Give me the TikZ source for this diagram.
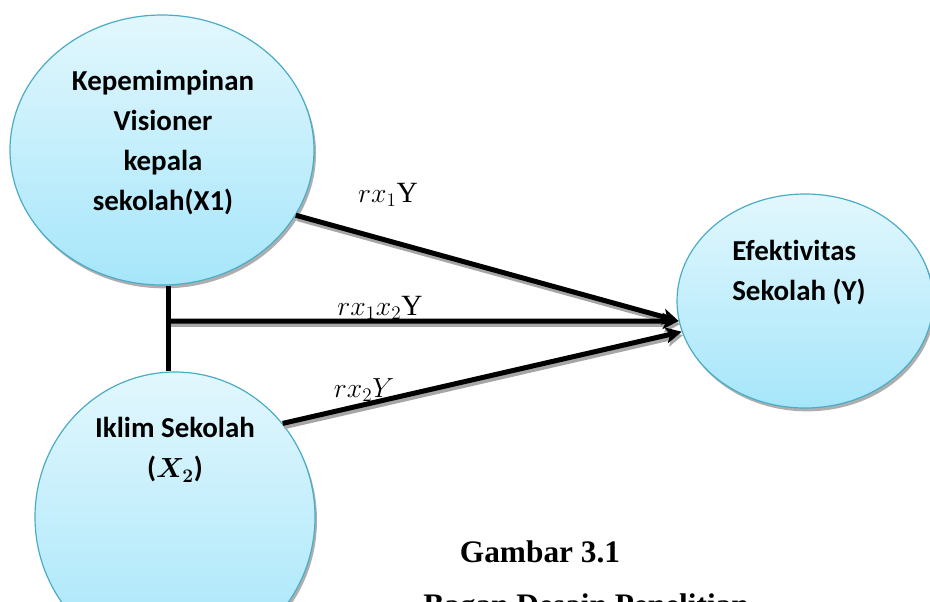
\documentclass[tikz,border=0pt]{standalone}
\usepackage{amsmath}
\usepackage{fontspec}
\setmainfont{Liberation Serif}
\newfontfamily\calibri[Ligatures={NoCommon,NoDiscretionary,NoRare}]{Carlito}
\usepackage{pgf,tikz}
\usepackage{tkz-euclide}
\usepackage{xcolor}
\usetikzlibrary{arrows.meta, shapes.geometric, shadows, calc}

\definecolor{bubtop}{HTML}{E2F7FD}
\definecolor{bubbot}{HTML}{A6E6FA}
\definecolor{bubline}{HTML}{4BACC6}

\tikzset{
	bubble/.style={ellipse, draw=bubline, line width=0.9pt, inner sep=0pt,
		top color=bubtop, bottom color=bubbot,
		drop shadow={shadow xshift=1.5pt, shadow yshift=-2.5pt, fill=black!45, opacity=.7}},
	btext/.style={font=\calibri\bfseries\fontsize{21.7}{30}\selectfont, align=center, inner sep=0pt},
	link/.style={line width=3.75pt, -{Stealth[length=12pt,width=12pt,inset=3pt]}},
	linkshade/.style={link, draw=black!35, transform canvas={xshift=1pt, yshift=-2.5pt}},
	bar/.style={line width=3.75pt},
	rlab/.style={font=\fontsize{22}{26}\selectfont, anchor=base, inner sep=0pt},
	captext/.style={font=\bfseries\fontsize{23.5}{28}\selectfont, anchor=base, inner sep=0pt}
}

\begin{document}
\begin{tikzpicture}[x=0.75pt, y=-0.75pt]
	\useasboundingbox (0,0) rectangle (930,601);
	\clip (0,0) rectangle (930,601);

	\node[bubble, minimum width=228pt, minimum height=202.5pt] (x1) at (162,150) {};
	\node[bubble, minimum width=210pt, minimum height=217.5pt] (x2) at (175,517) {};
	\node[bubble, minimum width=192pt, minimum height=160.5pt] (y) at (805,301) {};

	\tkzDefPoint(168,321){J}

	\draw[linkshade] (x1.-26) -- (y.189);
	\draw[linkshade] (J) -- (y.189);
	\draw[linkshade] (x2.41) -- (y.194);

	\draw[bar] (x1.south -| J) -- (x2.north -| J);
	\draw[link] (x1.-26) -- (y.189);
	\draw[link] (J) -- (y.189);
	\draw[link] (x2.41) -- (y.194);

	\node[btext] (t1) at (163,143) {Kepemimpinan\\Visioner\\kepala\\sekolah(X1)};
	\node[btext] (t2) at (175,450) {Iklim Sekolah\\{(}$\boldsymbol{X_2}${)}};
	\node[btext, align=left, anchor=west] (t3) at (732,273) {Efektivitas\\Sekolah (Y)};

	\node[rlab] (r1) at (388,202) {$rx_1\mathrm{Y}$};
	\node[rlab] (r12) at (380,315) {$rx_1x_2\mathrm{Y}$};
	\node[rlab] (r2) at (364,397) {$rx_2Y$};

	\node[captext] (g1) at (540,562) {Gambar 3.1};
	\node[captext, anchor=base west] (g2) at (423,615) {Bagan Desain Penelitian};
\end{tikzpicture}
\end{document}
